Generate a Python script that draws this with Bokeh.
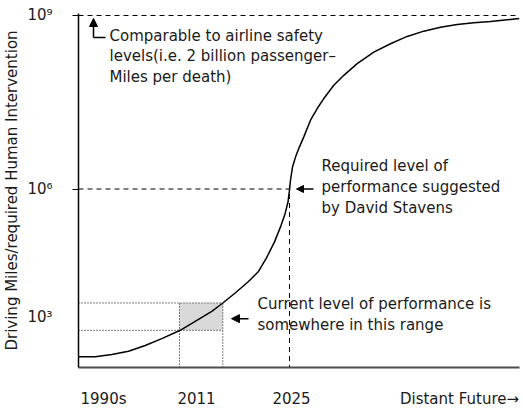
from bokeh.plotting import figure
from bokeh.models import Range1d, FixedTicker, Arrow, NormalHead
from bokeh.core.properties import value
from bokeh.embed import file_html
from bokeh.resources import INLINE

FONT = "DejaVu Sans"
TXT = "#1a1a1a"

# S-shaped performance curve (conceptual units)
curve_x = [0, 16.7, 33.3, 50, 66.7, 83.3, 101.7, 116.7, 133.3, 144.3, 156.7, 170, 180,
           188, 196, 202, 206.5, 209.5, 211, 212, 214, 217, 220.3, 225.3, 232, 238.7, 245.3,
           255.3, 265.3, 278.7, 295.3, 312, 328.7, 345.3, 362, 378.7, 395.3, 412, 428.7, 441]
curve_y = [10.7, 10.7, 13, 16.3, 22, 29, 37.3, 46.3, 56.3, 64.7, 74.7, 86.3, 96.3,
           110, 126, 141, 154, 166, 178, 188, 201, 211, 219.7, 231.3, 248, 259.7, 269.7,
           283, 293, 304.7, 316.3, 324.7, 332, 337.3, 341.3, 344, 345.7, 347, 348.7, 350]

x_tick_pos = [25, 118, 213, 381]
x_tick_labels = ["1990s", "2011", "2025", "Distant Future\u2192"]
y_tick_pos = [51, 179, 353]
y_tick_labels = ["10\u00b3", "10\u2076", "10\u2079"]

airline_level = 353
required_level = 179
required_time = 211
current_time = [101, 144.3]
current_level = [37.3, 64.7]

note_airline = "Comparable to airline safety\nlevels(i.e. 2 billion passenger\u2013\nMiles per death)"
note_required = "Required level of\nperformance suggested\nby David Stavens"
note_current = "Current level of performance is\nsomewhere in this range"

p = figure(width=523, height=410, x_range=Range1d(0, 441), y_range=Range1d(0, 355),
           output_backend="svg", toolbar_location=None, tools="",
           min_border_left=78, min_border_right=4, min_border_top=13, min_border_bottom=42)
p.outline_line_color = None
p.grid.visible = False
p.background_fill_color = "white"
p.border_fill_color = "white"

xa = p.xaxis[0]
xa.ticker = FixedTicker(ticks=x_tick_pos)
xa.major_label_overrides = dict(zip(x_tick_pos, x_tick_labels))
xa.major_tick_out = 0
xa.major_tick_in = 0
xa.minor_tick_out = 0
xa.minor_tick_in = 0
xa.major_label_standoff = 22
xa.major_label_text_font = FONT
xa.major_label_text_font_size = "15px"
xa.major_label_text_color = TXT
xa.axis_line_color = "#4d4d4d"
xa.axis_line_width = 2

ya = p.yaxis[0]
ya.ticker = FixedTicker(ticks=y_tick_pos, minor_ticks=y_tick_pos[1:])
ya.major_label_overrides = dict(zip(y_tick_pos, y_tick_labels))
ya.major_tick_out = 0
ya.major_tick_in = 0
ya.minor_tick_out = 6
ya.minor_tick_in = 0
ya.minor_tick_line_color = "black"
ya.major_label_standoff = 20
ya.major_label_text_font = FONT
ya.major_label_text_font_size = "15px"
ya.major_label_text_color = TXT
ya.axis_line_color = "black"
ya.axis_line_width = 1.5
ya.axis_label = "Driving Miles/required Human Intervention"
ya.axis_label_text_font = FONT
ya.axis_label_text_font_size = "15px"
ya.axis_label_text_font_style = "normal"
ya.axis_label_text_color = TXT
ya.axis_label_standoff = 3
ya.axis_label_text_line_height = 1.0

# current range box
p.quad(left=[current_time[0]], right=[current_time[1]],
       bottom=[current_level[0]], top=[current_level[1]],
       fill_color="#d9d9d9", line_color=None)
p.multi_line(xs=[[0, current_time[1]], [0, current_time[1]],
                 [current_time[0], current_time[0]], [current_time[1], current_time[1]]],
             ys=[[current_level[1]] * 2, [current_level[0]] * 2,
                 [0, current_level[1]], [0, current_level[1]]],
             line_color="black", line_width=1, line_dash="1 2")

# dashed reference lines
p.line([0, 441], [airline_level, airline_level], line_color="black", line_width=1, line_dash="5 4")
p.line([0, required_time, required_time], [required_level, required_level, 0],
       line_color="black", line_width=1, line_dash="5 4")

# curve
p.line(curve_x, curve_y, line_color="black", line_width=1.5, line_join="round")

# arrows
p.line([15, 27], [331, 331], line_color="black", line_width=1.5)
p.add_layout(Arrow(end=NormalHead(size=8, fill_color="black", line_color="black"),
                   x_start=15, y_start=331, x_end=15, y_end=350,
                   line_color="black", line_width=1.5))
p.add_layout(Arrow(end=NormalHead(size=7, fill_color="black", line_color="black"),
                   x_start=235, y_start=required_level, x_end=218, y_end=required_level,
                   line_color="black", line_width=1.5))
p.add_layout(Arrow(end=NormalHead(size=8, fill_color="black", line_color="black"),
                   x_start=170, y_start=49, x_end=153, y_end=49,
                   line_color="black", line_width=1.5))

# notes
common = dict(text_font=value(FONT), text_font_size="15px", text_color=TXT,
              text_align="left", text_baseline="middle", text_line_height=1.15)
p.text(x=[31], y=[312], text=[note_airline], **common)
p.text(x=[243], y=[181], text=[note_required], **common)
p.text(x=[179], y=[53], text=[note_current], **common)

open("out.html", "w").write(file_html(p, INLINE))
